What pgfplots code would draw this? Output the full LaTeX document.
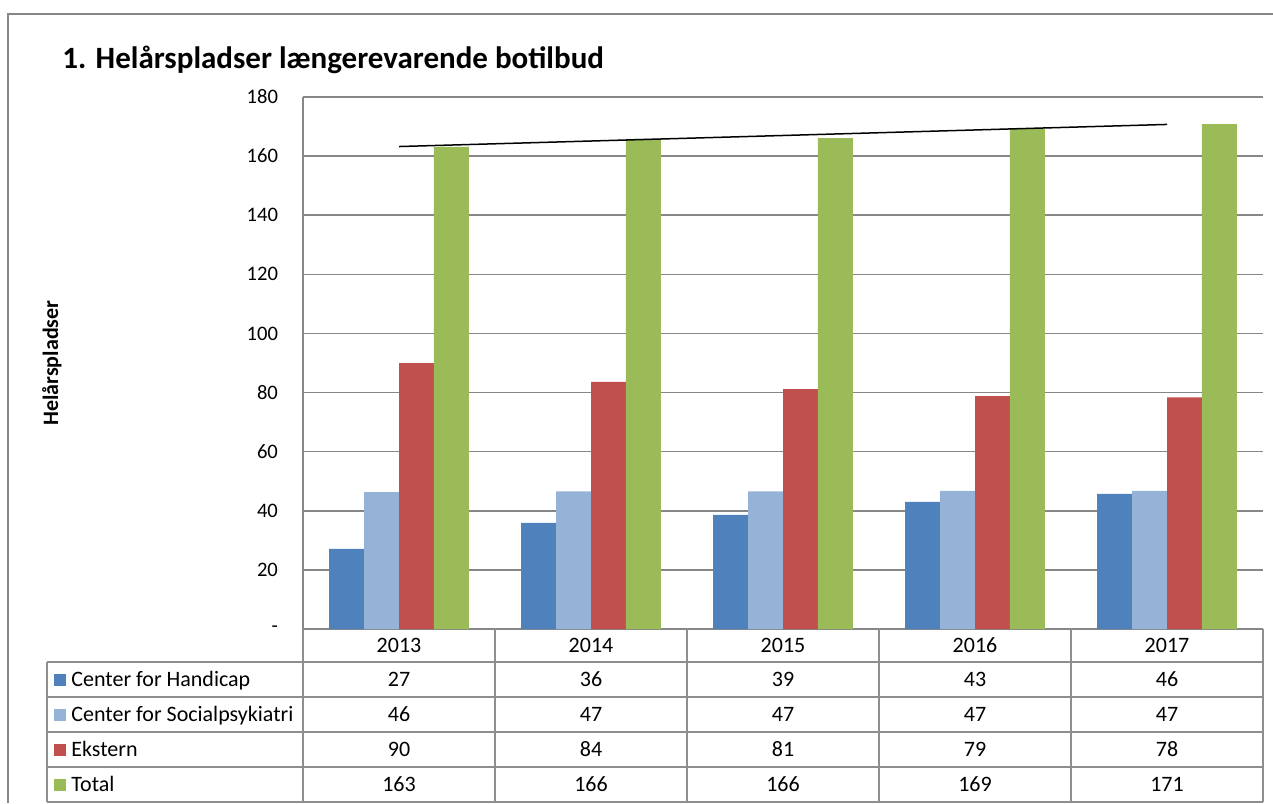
\documentclass[border=0pt]{standalone}
\usepackage{pgfplots}
\usepackage{pgfplotstable}
\pgfplotsset{compat=1.18}
\usepackage{fontspec}
\setmainfont{Carlito}
\definecolor{cH}{HTML}{4F81BD}
\definecolor{cS}{HTML}{95B3D7}
\definecolor{cE}{HTML}{C0504D}
\definecolor{cT}{HTML}{9BBB59}
\definecolor{gridc}{HTML}{878787}
\definecolor{tblc}{HTML}{8E8E8E}
\pgfplotstableread{
x year hc sp ek tot
0 2013 27.1 46.3 90.0 163.1
1 2014 35.9 46.6 83.6 165.8
2 2015 38.6 46.6 81.2 166.1
3 2016 43.0 46.7 78.8 169.1
4 2017 45.7 46.7 78.4 170.8
}\data
\newcommand{\tbl}{\fontsize{11}{13}\selectfont}
\begin{document}
\begin{tikzpicture}
\useasboundingbox (0,0) rectangle (636.5pt,-401.5pt);
\begin{axis}[
  at={(151.5pt,-314.5pt)}, anchor=south west,
  scale only axis, width=480pt, height=266pt,
  xmin=-0.5, xmax=4.5, ymin=0, ymax=180,
  ybar=0pt, bar width=0.182,
  axis lines=left,
  axis line style={-, gridc, line width=0.75pt},
  xtick=\empty,
  ytick={0,20,...,180},
  yticklabels={-,20,40,60,80,100,120,140,160,180},
  major tick length=0pt,
  ymajorgrids, grid style={gridc, line width=0.75pt},
  yticklabel style={font=\fontsize{10.3}{12}\selectfont, xshift=-9pt},
  ylabel={Helårspladser},
  ylabel style={font=\bfseries\fontsize{11}{13}\selectfont, at={(axis description cs:-0.2615,0.5)}, anchor=center},
  clip=false,
]
\addplot[fill=cH, draw=none, bar shift=-0.273] table[x=x, y=hc] {\data};
\addplot[fill=cS, draw=none, bar shift=-0.091] table[x=x, y=sp] {\data};
\addplot[fill=cE, draw=none, bar shift=0.091] table[x=x, y=ek] {\data};
\addplot[fill=cT, draw=none, bar shift=0.273] table[x=x, y=tot] {\data};
\addplot[sharp plot, black, line width=0.75pt, no markers] table[x=x, y={create col/linear regression={y=tot}}] {\data};
\end{axis}
\begin{scope}[x=0.5pt, y=-0.5pt]
  % outer frame
  \draw[gridc, line width=1pt] (8,803) -- (8,14) -- (1273,14);
  % title
  \node[anchor=base west, font=\bfseries\fontsize{15.5}{18}\selectfont, inner sep=0pt] at (62,68) {1. Helårspladser længerevarende botilbud};
  % data table lines
  \foreach \yy in {662,697,732,767} \draw[tblc, line width=0.75pt] (47,\yy) -- (1263,\yy);
  \draw[tblc, line width=1.2pt] (47,802) -- (1263,802);
  \draw[tblc, line width=0.75pt] (47,662) -- (47,802);
  \foreach \xx in {303,495,687,879,1071,1263} \draw[tblc, line width=0.75pt] (\xx,629) -- (\xx,802);
  % legend keys
  \foreach \c/\yy/\lab in {cH/679.5/Center for Handicap, cS/714.5/Center for Socialpsykiatri, cE/749.5/Ekstern, cT/784.5/Total} {
    \fill[\c] (54,\yy-6) rectangle (66,\yy+6);
    \node[anchor=base west, font=\tbl, inner sep=0pt] at (71,\yy+7) {\lab};
  }
  % years
  \foreach \i in {0,...,4} {
    \pgfplotstablegetelem{\i}{year}\of\data
    \node[anchor=base, font=\tbl, inner sep=0pt] at ({399+192*\i},652.5) {\pgfplotsretval};
  }
  % values
  \foreach \col/\yy in {hc/686.5, sp/721.5, ek/756.5, tot/791.5} {
    \foreach \i in {0,...,4} {
      \pgfplotstablegetelem{\i}{\col}\of\data
      \node[anchor=base, font=\tbl, inner sep=0pt] at ({399+192*\i},\yy) {\pgfmathprintnumber[fixed,precision=0,assume math mode=true]{\pgfplotsretval}};
    }
  }
\end{scope}
\end{tikzpicture}
\end{document}
